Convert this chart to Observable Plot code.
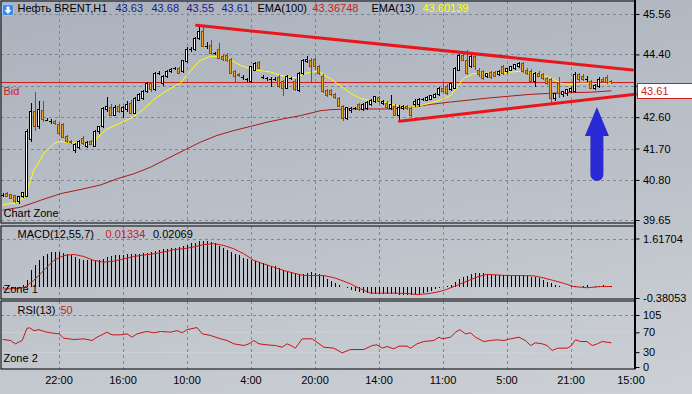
<!DOCTYPE html>
<html><head><meta charset="utf-8">
<script src="https://cdn.jsdelivr.net/npm/d3@7"></script>
<script src="https://cdn.jsdelivr.net/npm/@observablehq/plot@0.6"></script>
<style>
html,body{margin:0;padding:0;background:#c2c7ce;}
#wrap{position:relative;width:692px;height:394px;overflow:hidden;background:linear-gradient(170deg,#abb2bd 0%,#bcc1c9 55%,#cdd1d6 100%);font-family:"Liberation Sans",Arial,sans-serif;}
.panel{position:absolute;left:0;}
</style></head><body>
<div id="wrap">
 <div id="main" class="panel" style="top:0"></div>
 <div id="macd" class="panel" style="top:225px"></div>
 <div id="rsi" class="panel" style="top:300px"></div>
 <div style="position:absolute;left:634px;top:0;width:2px;height:369px;background:#000"></div>
 <div style="position:absolute;left:2px;top:2px;width:12px;height:12px;">
  <svg width="12" height="12"><rect x="0.5" y="0.5" width="11" height="11" rx="1.5" fill="#3b8ae6" stroke="#9cc8f8"/><path d="M6 10 L2.5 6 H4.6 V2.5 H7.4 V6 H9.5 Z" fill="#fff"/></svg>
 </div>
</div>
<script>
// ---------------- DATA ----------------
const opens = [
40.37,40.40,40.37,40.34,40.18,40.32,40.33,41.97,42.76,42.33,
42.79,42.52,42.50,42.47,42.40,42.40,42.04,41.90,41.63,41.72,
41.99,41.77,41.90,41.77,42.18,42.33,42.81,42.88,42.66,42.92,
42.76,42.81,43.00,42.71,43.09,43.14,43.33,43.57,43.38,43.88,
43.57,43.76,43.91,44.00,44.00,43.91,44.19,44.55,44.53,44.86,
45.05,44.64,44.67,44.43,44.53,44.34,44.36,44.26,43.91,43.81,
43.74,43.69,43.62,43.95,44.16,43.76,43.71,43.69,43.69,43.74,
43.62,43.43,43.71,43.62,43.36,43.86,44.19,44.24,44.26,44.05,
43.76,43.36,43.36,43.26,43.14,42.90,42.57,42.78,42.85,42.95,
42.82,42.86,42.95,43.05,43.17,43.00,43.00,42.85,42.92,42.66,
42.86,42.92,42.86,42.95,42.95,43.12,43.09,43.12,43.17,43.24,
43.43,43.48,43.40,43.43,43.95,44.38,44.24,44.05,44.34,43.95,
43.91,43.76,43.88,43.88,43.81,44.05,43.91,43.95,44.00,44.05,
44.14,43.95,43.91,43.62,43.86,43.81,43.71,43.67,43.14,43.57,
43.24,43.28,43.33,43.33,43.81,43.78,43.69,43.62,43.43,43.48,
43.69,43.74,43.63];
const highs = [
40.42,40.44,40.40,40.37,40.33,40.46,42.25,43.00,43.33,43.05,
43.05,42.58,42.56,42.52,42.45,42.44,42.08,41.95,41.85,41.95,
42.05,41.92,41.95,42.22,42.36,42.88,43.19,42.98,42.95,42.97,
42.92,43.05,43.10,43.17,43.30,43.38,43.62,43.62,43.90,43.92,
43.80,43.96,44.00,44.04,44.04,44.24,44.60,44.60,44.90,45.25,
45.24,44.75,44.80,44.48,44.72,44.40,44.45,44.30,43.95,43.86,
43.80,43.73,44.08,44.18,44.20,43.82,43.76,43.74,43.74,43.80,
43.66,43.80,43.76,43.70,43.90,44.26,44.36,44.30,44.30,44.10,
43.84,43.42,43.40,43.30,43.18,42.95,42.90,42.90,42.90,43.00,
43.00,43.06,43.12,43.22,43.22,43.10,43.05,43.24,42.97,42.95,
42.95,42.96,42.90,43.12,43.15,43.16,43.20,43.24,43.28,43.46,
43.62,43.55,43.58,44.04,44.40,44.43,44.53,44.38,44.38,44.00,
43.96,43.88,43.92,43.92,43.95,44.10,44.02,44.08,44.12,44.18,
44.18,44.00,43.98,43.90,43.92,43.86,43.76,43.72,43.30,43.76,
43.36,43.40,43.48,43.91,43.88,43.84,43.78,43.66,43.55,43.74,
43.74,43.80,43.68];
const lows = [
40.32,40.30,40.24,40.13,40.12,40.28,40.30,41.90,42.20,42.25,
42.45,42.48,42.40,42.38,42.10,42.00,41.85,41.83,41.58,41.68,
41.80,41.72,41.80,41.74,42.12,42.28,42.75,42.62,42.62,42.72,
42.58,42.76,42.68,42.68,43.05,43.10,43.30,43.33,43.35,43.82,
43.50,43.72,43.88,43.95,43.83,43.88,44.15,44.48,44.50,44.80,
44.60,44.55,44.40,44.38,44.27,44.20,44.18,43.84,43.57,43.75,
43.68,43.62,43.58,43.92,43.97,43.70,43.64,43.48,43.64,43.45,
43.21,43.40,43.66,43.36,43.33,43.82,44.15,43.62,43.95,43.80,
43.28,43.18,43.20,43.12,42.88,42.50,42.52,42.72,42.80,42.78,
42.78,42.82,42.92,43.02,43.02,42.96,42.84,42.80,42.62,42.50,
42.80,42.82,42.60,42.90,42.90,43.06,43.05,43.08,43.14,43.20,
43.30,43.25,43.36,43.40,43.92,44.20,43.82,44.00,43.96,43.76,
43.67,43.72,43.70,43.76,43.78,43.82,43.86,43.92,43.96,44.00,
43.88,43.82,43.58,43.48,43.76,43.68,43.52,43.00,43.05,43.14,
43.18,43.22,43.30,43.30,43.62,43.64,43.62,43.40,43.38,43.45,
43.58,43.56,43.55];
const closes = [
40.37,40.32,40.27,40.17,40.31,40.43,42.20,42.76,42.33,42.81,
42.52,42.52,42.50,42.42,42.14,42.02,41.90,41.88,41.83,41.90,
41.85,41.87,41.83,42.18,42.33,42.85,42.92,42.66,42.88,42.76,
42.88,42.95,42.71,43.14,43.26,43.33,43.57,43.38,43.86,43.88,
43.76,43.91,43.97,44.00,43.86,44.22,44.53,44.55,44.86,45.05,
44.62,44.64,44.43,44.43,44.29,44.26,44.24,43.86,43.76,43.80,
43.74,43.69,44.05,44.14,44.00,43.76,43.71,43.69,43.69,43.48,
43.43,43.76,43.71,43.38,43.86,44.22,44.26,44.05,44.05,43.86,
43.33,43.22,43.24,43.17,42.92,42.57,42.88,42.85,42.85,42.82,
42.95,43.02,43.09,43.19,43.06,43.06,42.88,42.95,42.66,42.88,
42.90,42.86,42.66,43.06,43.12,43.12,43.17,43.21,43.24,43.43,
43.33,43.28,43.57,44.00,44.36,44.24,43.86,44.34,44.05,43.81,
43.71,43.86,43.74,43.78,43.91,43.86,44.00,44.05,44.10,44.14,
43.91,43.86,43.62,43.86,43.78,43.71,43.57,43.14,43.28,43.28,
43.33,43.38,43.43,43.81,43.67,43.69,43.69,43.43,43.52,43.67,
43.62,43.60,43.61];

const ema13Bar = [0,3.5,5.2,6.5,7.7,9.4,10.2,11.9,12.7,14,17.3,20.2,22.3,23.5,26,29.4,32.7,35.2,37.7,41,44.4,46,47.7,49.4,51.9,54.4,56.9,59.4,61.9,64.4,66.9,69.4,71.9,73.5,75.2,77.3,78.8,80.2,81.9,83.5,85.2,86.9,89.4,91.9,94.4,96.9,99.4,101.9,104.4,106.9,109.4,111.9,113.6,115.2,117.7,120.2,123.5,126.9,129.4,131.9,134.4,136.9,139.4,141.9,144.4,146.9,149.4,152];
const ema13Val = [40.10,40.17,40.30,40.65,41.10,41.40,41.58,41.75,41.85,41.92,41.88,41.86,41.86,42.02,42.28,42.45,42.63,42.85,43.12,43.38,43.60,43.82,44.05,44.25,44.36,44.34,44.26,44.10,44.00,43.95,43.91,43.81,43.76,43.74,43.86,43.91,43.93,43.83,43.72,43.58,43.44,43.30,43.15,43.09,43.07,43.00,42.92,42.90,42.95,43.02,43.11,43.24,43.48,43.74,43.86,43.88,43.88,43.91,43.93,43.89,43.84,43.74,43.59,43.55,43.59,43.59,43.57,43.60];
const ema100Bar = [0,4.4,9.4,14.4,20.2,24.4,28.6,32.7,36.9,41,45.2,49.4,53.5,57.7,61.9,66,70.2,74.4,79.4,81.9,86.9,96.9,101.9,106.9,111.9,116.9,121.9,126.9,131.9,136.9,141.9,146.9,152];
const ema100Val = [39.95,40.03,40.23,40.42,40.56,40.67,40.85,40.99,41.18,41.42,41.66,41.90,42.09,42.23,42.35,42.47,42.57,42.66,42.80,42.83,42.85,42.85,42.90,42.98,43.05,43.11,43.17,43.22,43.27,43.30,43.32,43.33,43.37];

const macdHist = [
-0.04,-0.05,-0.06,-0.06,-0.04,0.05,0.24,0.55,0.74,0.89,
1.02,1.11,1.16,1.18,1.18,1.14,1.09,1.05,0.98,0.93,
0.91,0.89,0.89,0.87,0.89,0.93,0.98,1.02,1.05,1.07,
1.07,1.09,1.09,1.09,1.10,1.14,1.14,1.16,1.19,1.22,
1.25,1.27,1.29,1.31,1.34,1.38,1.40,1.45,1.47,1.52,
1.52,1.52,1.49,1.45,1.36,1.31,1.22,1.16,1.09,1.05,
0.97,0.93,0.91,0.85,0.82,0.80,0.74,0.71,0.69,0.63,
0.57,0.52,0.49,0.46,0.44,0.44,0.46,0.49,0.46,0.44,
0.37,0.26,0.18,0.12,0.06,0.00,-0.06,-0.11,-0.14,-0.17,
-0.20,-0.22,-0.24,-0.25,-0.25,-0.25,-0.25,-0.25,-0.26,-0.27,
-0.27,-0.27,-0.27,-0.25,-0.23,-0.20,-0.17,-0.13,-0.09,-0.05,
0.00,0.03,0.06,0.17,0.25,0.31,0.36,0.43,0.47,0.47,
0.45,0.43,0.39,0.39,0.39,0.39,0.39,0.39,0.39,0.40,
0.39,0.36,0.34,0.31,0.28,0.22,0.17,0.11,0.06,0.02,
0.00,0.00,0.02,0.01,0.00,0.02,0.05,0.00,0.01,0.02,
0.04,0.03,0.013];
const signalBar = [0,3.5,5.5,7.7,10.2,12.7,15.2,17.7,20.2,22.7,25.2,27.7,30.2,32.7,35.2,37.7,40.2,42.7,45.2,47.7,50.2,52.7,55.2,57.7,60.2,62.7,65.2,67.7,70.2,72.7,75.2,77.7,80.2,82.7,85.2,86.9,89.4,91.9,96.9,101,103.5,106,108.5,110.6,113.5,116,118.5,121,123.5,126,129.4,132.7,135.2,137.7,140.2,142.7,146,149.4,152];
const signalVal = [-0.06,-0.05,0.0,0.23,0.56,0.90,1.06,1.10,1.03,0.90,0.84,0.87,0.95,1.03,1.08,1.12,1.18,1.26,1.29,1.35,1.43,1.46,1.40,1.29,1.12,0.90,0.78,0.67,0.56,0.47,0.39,0.39,0.39,0.32,0.20,0.11,-0.06,-0.20,-0.20,-0.21,-0.25,-0.22,-0.17,-0.09,0.06,0.20,0.34,0.43,0.41,0.39,0.39,0.38,0.31,0.22,0.13,0.02,-0.02,0.02,0.021];

const rsiBar = [0,1.9,3.1,4.8,6.0,6.7,7.7,9.0,10.2,11.9,14.0,15.2,17.7,20.2,22.3,23.5,26.0,27.3,29.4,31.0,32.3,33.5,36.0,37.7,39.4,41.9,43.5,44.8,46.0,48.5,49.8,51.9,53.9,56.0,57.7,60.2,61.5,62.7,64.0,66.0,68.1,69.8,71.0,72.3,73.1,74.8,77.3,78.5,80.2,82.7,84.8,86.9,90.2,92.3,93.5,94.8,96.0,97.7,99.0,101.0,101.9,103.5,105.2,107.7,109.0,109.8,111.9,113.1,114.2,115.6,116.9,118.1,120.2,121.9,123.5,125.2,126.9,129.0,130.6,131.9,133.1,134.8,136.0,137.3,138.6,141.0,142.0,143.1,144.4,146.0,147.3,148.6,149.8,152];
const rsiVal = [56.5,54.5,47.8,54.5,79.4,80.0,74.4,76.4,72.7,70.0,68.0,59.2,56.5,57.9,54.5,61.2,71.3,65.9,65.9,68.0,61.2,68.0,72.7,70.0,72.7,71.3,74.4,70.0,76.4,80.7,68.0,64.6,59.2,54.5,47.8,44.4,47.8,54.5,47.8,45.7,44.4,41.0,47.8,43.1,39.0,57.9,57.9,51.1,41.0,39.0,29.6,36.3,36.3,44.4,45.7,39.0,42.4,37.7,43.1,43.1,39.0,47.8,52.5,54.5,61.2,57.9,61.2,71.3,76.4,68.0,70.0,61.2,52.5,54.5,55.9,54.5,57.9,61.2,54.5,44.4,49.8,47.8,44.4,34.3,39.0,39.0,43.1,55.9,52.5,52.5,44.4,47.8,52.5,50.0];

const trendUpperBar = [48.4, 157.4], trendUpperVal = [45.25, 43.97];
const trendLowerBar = [99.1, 158.1], trendLowerVal = [42.50, 43.27];
const arrowBar = 148.6, arrowTip = 42.89, arrowNeck = 42.06, arrowTail = 40.77;

const bid = 43.61;
const priceTicks = [45.56, 44.40, 43.50, 42.60, 41.70, 40.80, 39.65];
const hiddenPriceLabel = 43.50; // covered by the bid price box in the reference
const macdTicks = [-0.38053, 1.61704];
const rsiTicks = [0, 30, 70, 105];
const gridBars = [14, 30, 46, 62, 78, 94, 110, 126, 142];
const timeBars = [14, 30, 46, 62, 78, 94, 110, 126, 142, 157];
const timeLabels = ["22:00","16:00","10:00","4:00","20:00","14:00","11:00","5:00","21:00","15:00"];

const symbolName = "Нефть BRENT,H1";
const ema100Label = "EMA(100)", ema100Last = "43.36748";
const ema13Label = "EMA(13)", ema13Last = "43.60139";
const macdLabel = "MACD(12,55,7)", macdMain = "0.01334", macdSignal = "0.02069";
const rsiLabel = "RSI(13)", rsiLast = "50";

// ---------------- RENDER ----------------
const W = 692;
const xDomain = [-0.5, 158];
const gridColor = "#7c8798";
const dash = "3,3";
const font = '"Liberation Sans", Arial, sans-serif';
const style = {background: "transparent", fontFamily: font, fontSize: "11px", color: "#000", overflow: "visible"};
const hasAxisMark = typeof Plot.axisY === "function";

const candles = opens.map((o, i) => ({i, o, h: highs[i], l: lows[i], c: closes[i]}));
const dojis = candles.filter(d => d.o === d.c);
const bodies = candles.filter(d => d.o !== d.c);
const upFill = "#ffffff", dnFill = "#eea41e", dnLine = "#8c4a14";
const pts = (xs, ys) => xs.map((x, k) => ({x, y: ys[k]}));

function label(text, dx, dy, fill) {
  return Plot.text([text], {text: d => d, frameAnchor: "top-left", textAnchor: "start", lineAnchor: "middle", dx, dy, fill, fontSize: 11});
}
function yAxisMark(ticks, fmt) {
  return hasAxisMark ? [Plot.axisY({anchor: "right", ticks, tickFormat: fmt, tickSize: 4, tickPadding: 4, label: null, fontSize: 11})] : [];
}
function yScale(domain, ticks, fmt) {
  return {domain, label: null, axis: hasAxisMark ? null : "right", ticks, tickFormat: fmt, tickSize: 4, tickPadding: 4};
}
const priceFmt = d => d === hiddenPriceLabel ? "" : d.toFixed(2);

// main
const last = candles[candles.length - 1];
const mainPlot = Plot.plot({
  width: W, height: 224,
  marginLeft: 0.5, marginRight: 57.5, marginTop: 0.5, marginBottom: 1.5,
  x: {domain: xDomain, axis: null},
  y: yScale([39.5783, 45.9473], priceTicks, priceFmt),
  color: {type: "identity"},
  style,
  marks: [
    Plot.ruleX(gridBars, {stroke: gridColor, strokeDasharray: dash, shapeRendering: "crispEdges"}),
    Plot.ruleY(priceTicks, {stroke: gridColor, strokeDasharray: dash, shapeRendering: "crispEdges"}),
    Plot.ruleY([bid], {stroke: "#cc1f1c", shapeRendering: "crispEdges"}),
    Plot.line(pts(ema100Bar, ema100Val), {x: "x", y: "y", stroke: "#aa1a1a", strokeWidth: 1}),
    Plot.line(pts(ema13Bar, ema13Val), {x: "x", y: "y", stroke: "#ffff00", strokeWidth: 1}),
    Plot.ruleX(candles, {x: "i", y1: "l", y2: "h", stroke: d => d.c < d.o ? dnLine : "#000000", shapeRendering: "crispEdges"}),
    Plot.rect(bodies, {x1: d => d.i - 0.25, x2: d => d.i + 0.25, y1: "o", y2: "c",
      fill: d => d.c > d.o ? upFill : dnFill, stroke: d => d.c > d.o ? "#000000" : dnLine, shapeRendering: "crispEdges"}),
    Plot.ruleY(dojis, {y: "o", x1: d => d.i - 0.375, x2: d => d.i + 0.375, stroke: "#000000", shapeRendering: "crispEdges"}),
    Plot.line(pts(trendUpperBar, trendUpperVal), {x: "x", y: "y", stroke: "#e8171b", strokeWidth: 3}),
    Plot.line(pts(trendLowerBar, trendLowerVal), {x: "x", y: "y", stroke: "#e8171b", strokeWidth: 3}),
    (index, scales) => {
      const cx = scales.x(arrowBar), yt = scales.y(arrowTip), yn = scales.y(arrowNeck), yb = scales.y(arrowTail);
      const hw = 12, sw = 6.5;
      const p = `M${cx},${yt}L${cx+hw},${yn}L${cx+sw},${yn}L${cx+sw},${yb-sw}A${sw},${sw} 0 0 1 ${cx-sw},${yb-sw}L${cx-sw},${yn}L${cx-hw},${yn}Z`;
      const g = d3.create("svg:g");
      g.append("path").attr("d", p).attr("fill", "#2a2ad4");
      return g.node();
    },
    ...yAxisMark(priceTicks, priceFmt),
    (index, scales) => {
      const yb = Math.round(scales.y(bid)) + 1.5;
      const x0 = scales.x(xDomain[1]) + 3;
      const g = d3.create("svg:g");
      g.append("rect").attr("x", x0).attr("y", yb).attr("width", 62).attr("height", 15)
        .attr("fill", "#ffffff").attr("stroke", "#cc1f1c");
      g.append("text").attr("x", x0 + 3.5).attr("y", yb + 7.5).attr("dy", "0.35em")
        .attr("text-anchor", "start")
        .attr("fill", "#cc1f1c").attr("font-size", 11).attr("font-family", font).text(bid.toFixed(2));
      return g.node();
    },
    label(symbolName, 16.5, 7.5, "#000"),
    label(last.o.toFixed(2), 114.5, 7.5, "#1a1a8c"),
    label(last.h.toFixed(2), 150.5, 7.5, "#1a1a8c"),
    label(last.l.toFixed(2), 185.5, 7.5, "#1a1a8c"),
    label(last.c.toFixed(2), 220.5, 7.5, "#1a1a8c"),
    label(ema100Label, 256.5, 7.5, "#000"),
    label(ema100Last, 311.5, 7.5, "#c8201c"),
    label(ema13Label, 370.5, 7.5, "#000"),
    label(ema13Last, 421.5, 7.5, "#ffff00"),
    label("Bid", 2.5, 90.5, "#cc1f1c"),
    label("Chart Zone", 2.5, 212.5, "#000"),
    Plot.frame({stroke: "#000"})
  ]
});
document.getElementById("main").append(mainPlot);

// MACD
const barIdx = macdHist.map((_, i) => i);
const macdPlot = Plot.plot({
  width: W, height: 74,
  marginLeft: 0.5, marginRight: 57.5, marginTop: 0.5, marginBottom: 0.5,
  x: {domain: xDomain, axis: null},
  y: yScale([-0.39732, 2.05349], macdTicks, d => d.toFixed(5)),
  style,
  marks: [
    Plot.ruleX(gridBars, {stroke: gridColor, strokeDasharray: dash, shapeRendering: "crispEdges"}),
    Plot.ruleY([macdTicks[1]], {stroke: gridColor, strokeDasharray: dash, shapeRendering: "crispEdges"}),
    Plot.ruleX(barIdx, {x: d => d, y1: 0, y2: d => macdHist[d], stroke: "#000", shapeRendering: "crispEdges"}),
    Plot.line(pts(signalBar, signalVal), {x: "x", y: "y", stroke: "#d41414", strokeWidth: 1}),
    ...yAxisMark(macdTicks, d => d.toFixed(5)),
    label(macdLabel, 16.5, 8.5, "#000"),
    label(macdMain, 104.5, 8.5, "#c8201c"),
    label(macdSignal, 152, 8.5, "#000"),
    label("Zone 1", 2.5, 63.5, "#000"),
    Plot.frame({stroke: "#000"})
  ]
});
document.getElementById("macd").append(macdPlot);

// RSI
const rsiPlot = Plot.plot({
  width: W, height: 94,
  marginLeft: 0.5, marginRight: 57.5, marginTop: 0.5, marginBottom: 25.5,
  x: {domain: xDomain, label: null, axis: hasAxisMark ? null : "bottom", ticks: timeBars,
      tickFormat: d => timeLabels[timeBars.indexOf(d)], tickSize: 0, tickPadding: 7},
  y: yScale([-3.0288, 134.279], rsiTicks, d => String(d)),
  style,
  marks: [
    Plot.ruleY([30, 70], {stroke: "#cfd3d9", strokeOpacity: 0.7, shapeRendering: "crispEdges"}),
    Plot.ruleX(gridBars, {stroke: gridColor, strokeDasharray: dash, shapeRendering: "crispEdges"}),
    Plot.ruleY([105], {stroke: gridColor, strokeDasharray: dash, shapeRendering: "crispEdges"}),
    Plot.line(pts(rsiBar, rsiVal), {x: "x", y: "y", stroke: "#c81414", strokeWidth: 1}),
    ...yAxisMark(rsiTicks, d => String(d)),
    ...(hasAxisMark ? [Plot.axisX({ticks: timeBars, tickFormat: d => timeLabels[timeBars.indexOf(d)], tickSize: 0, tickPadding: 7, label: null, fontSize: 11})] : []),
    label(rsiLabel, 16.5, 9.5, "#000"),
    label(rsiLast, 59.5, 9.5, "#c8201c"),
    label("Zone 2", 2.5, 57.5, "#000"),
    Plot.frame({stroke: "#000"})
  ]
});
document.getElementById("rsi").append(rsiPlot);
</script>
</body></html>
